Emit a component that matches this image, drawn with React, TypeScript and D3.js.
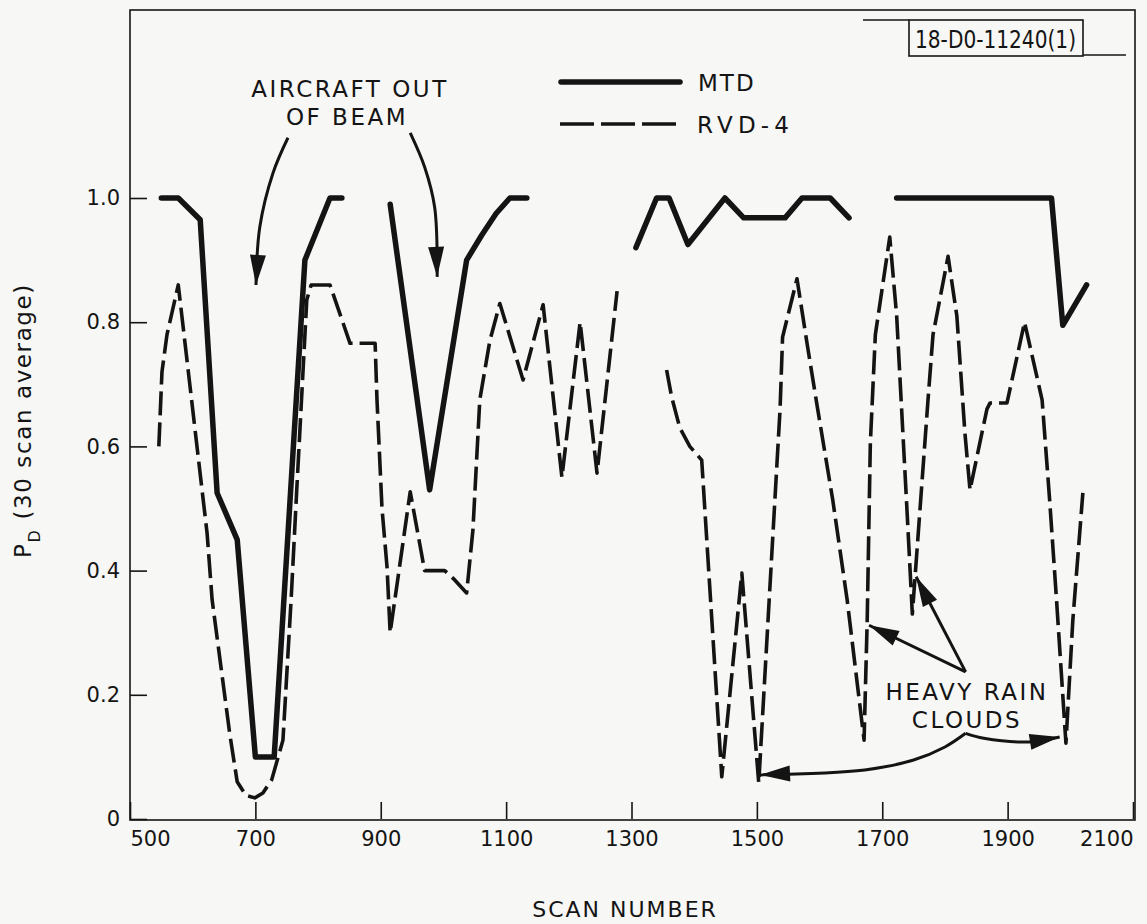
import React, { useEffect, useRef } from 'react';
import * as d3 from 'd3';

const W = 1147;
const H = 924;

const xTicks = [500, 700, 900, 1100, 1300, 1500, 1700, 1900, 2100];
const yTicks = [0, 0.2, 0.4, 0.6, 0.8, 1.0];

// MTD (solid line), drawn in separate pieces where the record is broken
const mtdA: [number, number][] = [
  [550, 1.0], [577, 1.0], [612, 0.965], [639, 0.525], [671, 0.45], [700, 0.1],
  [730, 0.1], [779, 0.9], [819, 1.0], [838, 1.0],
];
const mtdB: [number, number][] = [
  [915, 0.99], [978, 0.53], [1037, 0.9], [1061, 0.94], [1084, 0.975], [1106, 1.0], [1133, 1.0],
];
const mtdC: [number, number][] = [
  [1307, 0.92], [1340, 1.0], [1360, 1.0], [1390, 0.925], [1449, 1.0], [1479, 0.968],
  [1545, 0.968], [1572, 1.0], [1617, 1.0], [1647, 0.968],
];
const mtdD: [number, number][] = [
  [1723, 1.0], [1970, 1.0], [1988, 0.795], [2026, 0.86],
];

// RVD-4 (dashed line)
const rvdA: [number, number][] = [
  [546, 0.6], [551, 0.72], [559, 0.78], [577, 0.86], [594, 0.712], [608, 0.59], [623, 0.46],
  [631, 0.353], [659, 0.138], [671, 0.06], [685, 0.038], [699, 0.034], [712, 0.042],
  [726, 0.063], [744, 0.127], [757, 0.353], [766, 0.53], [782, 0.836], [789, 0.86],
  [819, 0.86], [851, 0.766], [891, 0.766], [894, 0.675], [902, 0.5], [910, 0.406],
  [915, 0.3], [947, 0.527], [970, 0.4], [1002, 0.4], [1018, 0.385], [1037, 0.364],
  [1047, 0.465], [1058, 0.675], [1074, 0.77], [1090, 0.83], [1127, 0.707], [1159, 0.828],
  [1189, 0.55], [1218, 0.8], [1245, 0.557], [1277, 0.85],
];
const rvdB: [number, number][] = [
  [1356, 0.723], [1364, 0.68], [1377, 0.63], [1393, 0.6], [1412, 0.578], [1444, 0.068],
  [1476, 0.396], [1503, 0.058], [1537, 0.66], [1541, 0.776], [1564, 0.87], [1580, 0.766],
  [1597, 0.66], [1621, 0.514], [1644, 0.353], [1671, 0.127], [1676, 0.32], [1681, 0.605],
  [1689, 0.78], [1712, 0.937], [1723, 0.81], [1733, 0.62], [1740, 0.487], [1748, 0.33],
  [1773, 0.675], [1781, 0.78], [1805, 0.906], [1819, 0.81], [1832, 0.62], [1840, 0.53],
  [1867, 0.66], [1872, 0.67], [1899, 0.67], [1927, 0.8], [1955, 0.675], [1967, 0.514],
  [1978, 0.353], [1993, 0.122], [2004, 0.32], [2020, 0.525],
];

// annotation arrows (data coordinates, last point is the tip)
const beamArrowL: [number, number][] = [[752, 1.097], [728, 1.04], [707, 0.953], [701, 0.86]];
const beamArrowR: [number, number][] = [[947, 1.105], [970, 1.05], [986, 0.985], [990, 0.873]];
const rainArrow1: [number, number][] = [[1833, 0.237], [1679, 0.312]];
const rainArrow2: [number, number][] = [[1833, 0.237], [1754, 0.39]];
const rainCurveL: [number, number][] = [[1833, 0.138], [1800, 0.116], [1750, 0.095], [1672, 0.079], [1505, 0.071]];
const rainCurveR: [number, number][] = [[1833, 0.138], [1862, 0.13], [1934, 0.124], [1983, 0.132]];

const FONT = "'DejaVu Sans', sans-serif";
const INK = '#141414';

const App: React.FC = () => {
  const svgRef = useRef<SVGSVGElement>(null);

  useEffect(() => {
    const svg = d3.select(svgRef.current);
    svg.selectAll('*').remove();

    const x = d3.scaleLinear().domain([500, 2100]).range([130, 1133]);
    const y = d3.scaleLinear().domain([0, 1]).range([819, 198]);

    svg.append('rect').attr('width', W).attr('height', H).attr('fill', '#f7f7f5');

    // frame
    svg.append('rect')
      .attr('x', 130).attr('y', 10).attr('width', 1005).attr('height', 810)
      .attr('fill', 'none').attr('stroke', INK).attr('stroke-width', 1.6);

    // x axis, ticks pointing inward
    const gx = svg.append('g')
      .attr('transform', `translate(0,${y(0)})`)
      .call(d3.axisBottom(x).tickValues(xTicks).tickSizeInner(-17).tickSizeOuter(0).tickPadding(12).tickFormat(d3.format('d')));
    gx.select('.domain').remove();
    gx.selectAll('line').attr('stroke', INK).attr('stroke-width', 1.6);
    gx.selectAll('text')
      .attr('fill', INK).style('font-family', FONT).style('font-size', '21px')
      .attr('text-anchor', (d: any) => (d === 500 ? 'start' : d === 2100 ? 'end' : 'middle'));

    // y axis
    const gy = svg.append('g')
      .attr('transform', `translate(${x(500)},0)`)
      .call(d3.axisLeft(y).tickValues(yTicks).tickSizeInner(-17).tickSizeOuter(0).tickPadding(10)
        .tickFormat((d: any) => (d === 0 ? '0' : d3.format('.1f')(d))));
    gy.select('.domain').remove();
    gy.selectAll('line').attr('stroke', INK).attr('stroke-width', 1.6);
    gy.selectAll('text').attr('fill', INK).style('font-family', FONT).style('font-size', '21px');

    const line = d3.line<[number, number]>().x(d => x(d[0])).y(d => y(d[1]));

    // MTD solid
    svg.append('g').selectAll('path')
      .data([mtdA, mtdB, mtdC, mtdD])
      .join('path')
      .attr('d', d => line(d))
      .attr('fill', 'none').attr('stroke', INK).attr('stroke-width', 5.5)
      .attr('stroke-linejoin', 'round').attr('stroke-linecap', 'round');

    // RVD-4 dashed
    svg.append('g').selectAll('path')
      .data([rvdA, rvdB])
      .join('path')
      .attr('d', d => line(d))
      .attr('fill', 'none').attr('stroke', INK).attr('stroke-width', 3.6)
      .attr('stroke-dasharray', '24 7').attr('stroke-linejoin', 'round');

    // legend
    const lg = svg.append('g');
    lg.append('line').attr('x1', 561).attr('x2', 680).attr('y1', 82).attr('y2', 82)
      .attr('stroke', INK).attr('stroke-width', 5.5).attr('stroke-linecap', 'round');
    lg.append('line').attr('x1', 560).attr('x2', 680).attr('y1', 124).attr('y2', 124)
      .attr('stroke', INK).attr('stroke-width', 3.6).attr('stroke-dasharray', '34 7');
    lg.append('text').attr('x', 698).attr('y', 91).style('letter-spacing', '2px').text('MTD');
    lg.append('text').attr('x', 697).attr('y', 133).attr('textLength', 92).text('RVD-4');
    lg.selectAll('text').attr('fill', INK).style('font-family', FONT).style('font-size', '23px');

    // drawing number box
    const bx = svg.append('g');
    bx.append('line').attr('x1', 863).attr('x2', 909).attr('y1', 20).attr('y2', 20);
    bx.append('rect').attr('x', 909).attr('y', 20).attr('width', 174).attr('height', 36).attr('fill', 'none');
    bx.append('line').attr('x1', 1083).attr('x2', 1126).attr('y1', 55).attr('y2', 55);
    bx.selectAll('line, rect').attr('stroke', INK).attr('stroke-width', 1.6);
    bx.append('text').attr('x', 915).attr('y', 48).attr('textLength', 161).attr('lengthAdjust', 'spacingAndGlyphs')
      .attr('fill', INK).style('font-family', FONT).style('font-size', '24px').text('18-D0-11240(1)');

    // annotation texts
    const ann = [
      { t: 'AIRCRAFT OUT', x: 350, y: 97 },
      { t: 'OF BEAM', x: 347, y: 125 },
      { t: 'HEAVY RAIN', x: 967, y: 700 },
      { t: 'CLOUDS', x: 967, y: 728 },
    ];
    svg.append('g').selectAll('text').data(ann).join('text')
      .attr('x', d => d.x).attr('y', d => d.y).attr('text-anchor', 'middle')
      .attr('fill', INK).style('font-family', FONT).style('font-size', '23px').style('letter-spacing', '2.5px')
      .text(d => d.t);

    // arrows
    const curve = d3.line<[number, number]>().x(d => x(d[0])).y(d => y(d[1])).curve(d3.curveCatmullRom);
    const arrows = [beamArrowL, beamArrowR, rainArrow1, rainArrow2, rainCurveL, rainCurveR];
    const ag = svg.append('g');
    arrows.forEach(pts => {
      const n = pts.length;
      const tip = [x(pts[n - 1][0]), y(pts[n - 1][1])];
      const prev = [x(pts[n - 2][0]), y(pts[n - 2][1])];
      const dx = tip[0] - prev[0];
      const dy = tip[1] - prev[1];
      const len = Math.hypot(dx, dy);
      const ux = dx / len;
      const uy = dy / len;
      const hl = 30;
      const hw = 8;
      const bxp = tip[0] - ux * hl;
      const byp = tip[1] - uy * hl;
      ag.append('path').attr('d', curve(pts))
        .attr('fill', 'none').attr('stroke', INK).attr('stroke-width', 3);
      ag.append('path')
        .attr('d', `M${tip[0]},${tip[1]}L${bxp - uy * hw},${byp + ux * hw}L${bxp + uy * hw},${byp - ux * hw}Z`)
        .attr('fill', INK);
    });

    // axis titles
    svg.append('text').attr('x', 625).attr('y', 917).attr('text-anchor', 'middle')
      .attr('fill', INK).style('font-family', FONT).style('font-size', '22px').style('letter-spacing', '2px')
      .text('SCAN NUMBER');

    const yl = svg.append('text')
      .attr('transform', 'translate(31,558) rotate(-90)')
      .attr('fill', INK).style('font-family', FONT).style('font-size', '23px').style('letter-spacing', '1.6px');
    yl.append('tspan').text('P');
    yl.append('tspan').attr('dy', 9).style('font-size', '16px').text('D');
    yl.append('tspan').attr('dy', -9).attr('dx', 9).text('(30 scan average)');
  }, []);

  return <svg ref={svgRef} width={W} height={H} style={{ position: 'absolute', left: 0, top: 0 }} />;
};

export default App;
